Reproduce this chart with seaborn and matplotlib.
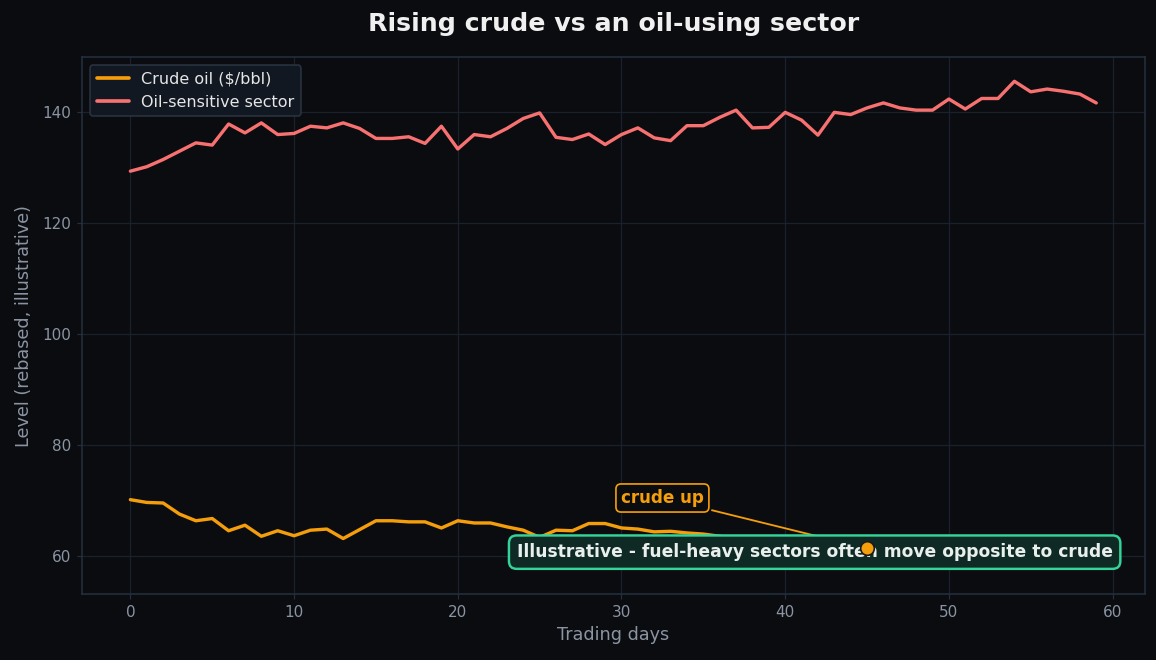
import matplotlib
matplotlib.use("Agg")
import matplotlib.pyplot as plt
import numpy as np
import pandas as pd
import seaborn as sns

BG = "#0b0c10"
GRID = "#19212c"
SPINE = "#243040"
MUTED = "#8a94a3"
CRUDE_COLOR = "#f59e0b"
SECTOR_COLOR = "#f87171"
NOTE_EDGE = "#34d399"
NOTE_FACE = "#0f2a25"

days = list(range(60))
crude = [
    70.2, 69.7, 69.6, 67.6, 66.4, 66.8, 64.6, 65.6, 63.6, 64.6,
    63.7, 64.7, 64.9, 63.2, 64.8, 66.4, 66.4, 66.2, 66.2, 65.1,
    66.4, 66.0, 66.0, 65.3, 64.7, 63.4, 64.7, 64.6, 65.9, 65.9,
    65.1, 64.9, 64.4, 64.5, 64.2, 64.0, 63.6, 63.2, 62.9, 62.6,
    62.8, 62.3, 62.0, 61.8, 61.6, 61.4, 61.2, 61.0, 60.7, 60.8,
    60.5, 60.3, 60.0, 59.9, 59.7, 59.5, 59.4, 59.2, 59.1, 59.0,
]
sector = [
    129.4, 130.2, 131.5, 133.0, 134.5, 134.1, 137.9, 136.3, 138.1, 136.0,
    136.2, 137.5, 137.2, 138.1, 137.1, 135.3, 135.3, 135.6, 134.4, 137.5,
    133.4, 136.0, 135.6, 137.1, 138.9, 139.9, 135.5, 135.1, 136.1, 134.2,
    136.0, 137.2, 135.4, 134.9, 137.6, 137.6, 139.1, 140.4, 137.2, 137.3,
    140.0, 138.6, 135.9, 140.0, 139.6, 140.8, 141.7, 140.8, 140.4, 140.4,
    142.4, 140.6, 142.5, 142.5, 145.6, 143.7, 144.2, 143.8, 143.3, 141.7,
]
series_names = ["Crude oil ($/bbl)", "Oil-sensitive sector"]
marker_day = 45
marker_level = 61.4

df = pd.DataFrame({
    "day": days * 2,
    "level": crude + sector,
    "series": [series_names[0]] * len(days) + [series_names[1]] * len(days),
})

sns.set_theme(style="dark")
plt.rcParams["font.family"] = ["DejaVu Sans"]

fig, ax = plt.subplots(figsize=(10.51, 6.0), dpi=110)
fig.patch.set_facecolor(BG)
ax.set_facecolor(BG)

sns.lineplot(
    data=df, x="day", y="level", hue="series",
    palette={series_names[0]: CRUDE_COLOR, series_names[1]: SECTOR_COLOR},
    linewidth=2.2, ax=ax, zorder=3,
)

ax.set_xlim(-2.95, 61.95)
ax.set_ylim(53.2, 149.9)
ax.set_xticks(range(0, 61, 10))
ax.set_yticks(range(60, 141, 20))
ax.grid(True, color=GRID, linewidth=0.8)
ax.set_axisbelow(True)
for spine in ax.spines.values():
    spine.set_color(SPINE)
    spine.set_linewidth(1.0)
ax.tick_params(colors=MUTED, labelsize=10, length=3.5, width=0.8, color=SPINE,
               bottom=True, left=True)

ax.set_title("Rising crude vs an oil-using sector", color="#f0f0f0",
             fontsize=16.5, fontweight="bold", pad=17)
ax.set_xlabel("Trading days", color=MUTED, fontsize=11.5)
ax.set_ylabel("Level (rebased, illustrative)", color=MUTED, fontsize=11.5, labelpad=6)

leg = ax.legend(loc="upper left", fontsize=10.5, facecolor="#111822",
                edgecolor="#2a3442", framealpha=1.0, title=None,
                borderaxespad=0.5, handlelength=2.0)
for text in leg.get_texts():
    text.set_color("#e6e6e6")
for line in leg.get_lines():
    line.set_linewidth(2.4)

ax.annotate(
    "crude up", xy=(marker_day, marker_level), xytext=(32.5, 70.5),
    color=CRUDE_COLOR, fontsize=11, fontweight="bold", ha="center", va="center",
    bbox=dict(boxstyle="round,pad=0.3", facecolor=BG, edgecolor=CRUDE_COLOR, linewidth=1.1),
    arrowprops=dict(arrowstyle="-", color=CRUDE_COLOR, lw=1.2),
    zorder=4,
)

ax.text(0.6895, 0.078, "Illustrative - fuel-heavy sectors often move opposite to crude",
        transform=ax.transAxes, ha="center", va="center", color="#e8efec",
        fontsize=11.2, fontweight="bold", zorder=5,
        bbox=dict(boxstyle="round,pad=0.45", facecolor=NOTE_FACE,
                  edgecolor=NOTE_EDGE, linewidth=1.6))

ax.scatter([marker_day], [marker_level], s=80, color=CRUDE_COLOR,
           edgecolor="#1a1a1a", linewidth=1.1, zorder=6)

fig.subplots_adjust(left=0.071, right=0.99, top=0.913, bottom=0.1)
fig.savefig("out.png", dpi=110, facecolor=BG)
